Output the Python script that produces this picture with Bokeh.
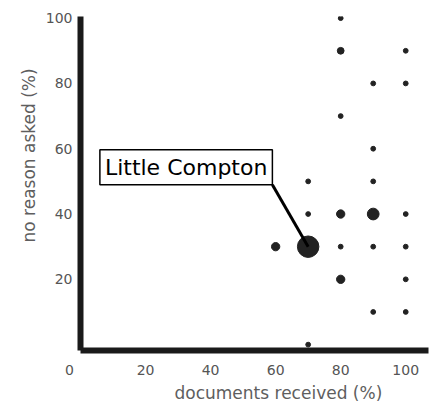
import math
from bokeh.plotting import figure
from bokeh.models import ColumnDataSource, Label, FixedTicker, Title
from bokeh.embed import file_html
from bokeh.resources import INLINE

# data
documents_received = [80, 80, 100, 90, 100, 80, 90, 70, 90, 70, 80, 90, 100, 60, 70, 80, 90, 100, 80, 100, 90, 100, 70]
no_reason_asked = [100, 90, 90, 80, 80, 70, 60, 50, 50, 40, 40, 40, 40, 30, 30, 30, 30, 30, 20, 20, 10, 10, 0]
town_count = [1, 2, 1, 1, 1, 1, 1, 1, 1, 1, 3, 6, 1, 3, 20, 1, 1, 1, 3, 1, 1, 1, 1]

x_ticks = [0, 20, 40, 60, 80, 100]
y_ticks = [20, 40, 60, 80, 100]

highlight_name = "Little Compton"
highlight_x = 70
highlight_y = 30
callout_x = 59
callout_y = 49

FONT = "DejaVu Sans"
TICK_COLOR = "#555555"
TITLE_COLOR = "#5e5e5e"
NB = "\u00a0"

sizes = [4.8 * math.sqrt(c) for c in town_count]
src = ColumnDataSource(dict(x=documents_received, y=no_reason_asked, s=sizes))

p = figure(width=432, height=402, output_backend="svg", toolbar_location=None,
           x_range=(0, 107), y_range=(-1.8, 100.5),
           min_border_left=80, min_border_right=4, min_border_top=16, min_border_bottom=51)
p.outline_line_color = None
p.grid.grid_line_color = None
p.background_fill_color = "white"

for ax in (p.xaxis[0], p.yaxis[0]):
    ax.axis_line_width = 6
    ax.axis_line_color = "#1a1a1a"
    ax.major_tick_line_color = None
    ax.minor_tick_line_color = None
    ax.major_tick_out = 0
    ax.major_tick_in = 0
    ax.major_label_text_font = FONT
    ax.major_label_text_font_size = "14px"
    ax.major_label_text_color = TICK_COLOR

p.xaxis.ticker = FixedTicker(ticks=x_ticks)
p.yaxis.ticker = FixedTicker(ticks=y_ticks)
p.xaxis.major_label_overrides = {0: "0" + NB * 5}
p.xaxis.major_label_standoff = 11
p.yaxis.major_label_standoff = 8

p.scatter("x", "y", size="s", source=src, color="#222222", line_color="#222222")

# leader line
p.segment(x0=[highlight_x], y0=[highlight_y], x1=[callout_x], y1=[callout_y],
          line_color="black", line_width=3)

p.add_layout(Label(x=callout_x, y=callout_y, text=highlight_name,
                   text_font=FONT, text_font_size="22px", text_color="black",
                   text_align="right", text_baseline="bottom",
                   border_line_color="black", border_line_width=1.5,
                   background_fill_color="white", padding=5))

# axis titles
p.add_layout(Title(text="no reason asked (%)", align="left", offset=108,
                   text_font=FONT, text_font_size="17px", text_font_style="normal",
                   text_color=TITLE_COLOR, standoff=7), "left")
p.add_layout(Title(text="documents received (%)", align="left", offset=94,
                   text_font=FONT, text_font_size="17px", text_font_style="normal",
                   text_color=TITLE_COLOR, standoff=0), "below")

open("out.html", "w").write(file_html(p, INLINE))
